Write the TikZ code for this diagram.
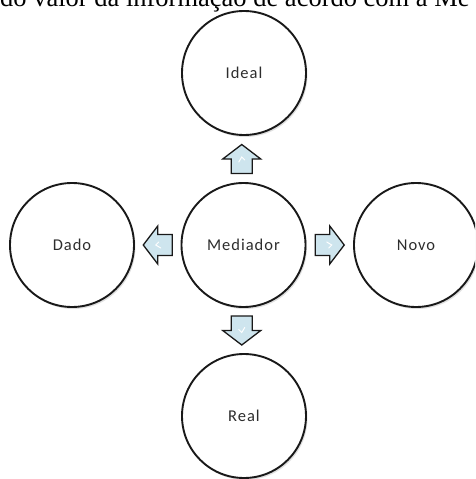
\documentclass[tikz,border=0pt]{standalone}
\usepackage{fontspec}
\setmainfont{Liberation Serif}
\newfontfamily\lblfont[LetterSpace=6]{Carlito}
\usetikzlibrary{shadows,calc}
\definecolor{arrfill}{RGB}{206,229,238}
\definecolor{txt}{RGB}{45,45,45}
\newcommand\blockarrow[2]{\draw[blockarr, shift={(#1)}, rotate=#2] (-14.5,-10.5) -- (0,-10.5) -- (0,-19) -- (14.5,0) -- (0,19) -- (0,10.5) -- (-14.5,10.5) -- cycle;
  \draw[white, line width=1pt, line cap=round, shift={(#1)}, rotate=#2] (-3,3) -- (2,0) -- (-1,-3);}
\begin{document}
\begin{tikzpicture}[x=1pt,y=1pt,
  circ/.style={circle, draw=black!90, line width=1.9pt, fill=white, minimum size=124pt, inner sep=0pt,
    font=\lblfont\fontsize{16.5}{18}\selectfont, text=txt,
    drop shadow={shadow xshift=1.5pt, shadow yshift=-2pt, opacity=0.25}},
  blockarr/.style={draw=black!90, line width=1.3pt, fill=arrfill, line join=miter}]
\clip (0,0) rectangle (475,-479);
\useasboundingbox (0,0) rectangle (475,-479);
\node[anchor=base west, inner sep=0pt, font=\fontsize{26.5}{30}\selectfont] (cap) at (0,-6) {do valor da informação de acordo com a Me};
\node[circ] (ideal) at (244,-73) {Ideal};
\node[circ] (med) at (243.5,-245) {Mediador};
\node[circ] (real) at (244,-416) {Real};
\node[circ] (dado) at (72,-245) {Dado};
\node[circ] (novo) at (416,-245) {Novo};
\coordinate (au) at ($(ideal.south)!0.5!(med.north)+(-2,0)$);
\coordinate (ad) at ($(med.south)!0.5!(real.north)+(-2,0)$);
\coordinate (al) at ($(dado.east)!0.5!(med.west)$);
\coordinate (ar) at ($(med.east)!0.5!(novo.west)$);
\blockarrow{au}{90}
\blockarrow{ad}{-90}
\blockarrow{al}{180}
\blockarrow{ar}{0}
\end{tikzpicture}
\end{document}
